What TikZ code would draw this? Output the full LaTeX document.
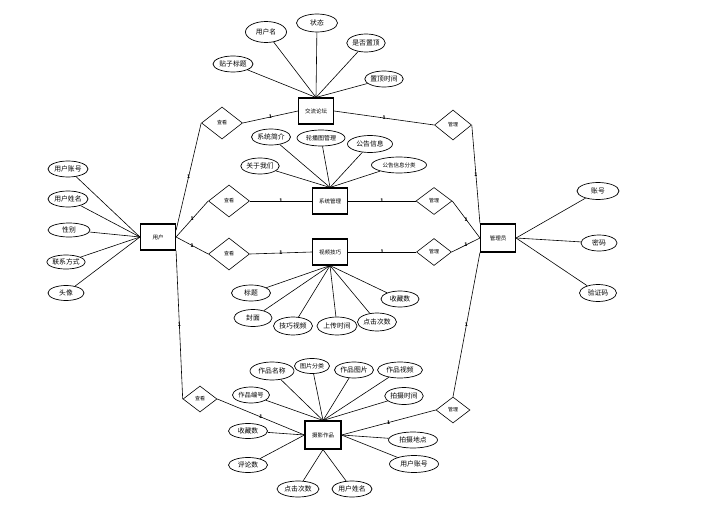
\documentclass[tikz,border=0pt]{standalone}
\usepackage{fontspec}
\newfontfamily\cjk{Noto Sans CJK SC}
\usetikzlibrary{shapes.geometric}
\tikzset{ ent/.style = { rectangle
                       , draw
                       , line width     = 1.1pt
                       , inner sep      = 0pt
                       , minimum width  = 35pt
                       , minimum height = 26pt
                       , font = \cjk\fontsize{5.5}{6}\selectfont
                       },
          rel/.style 2 args = { diamond
                       , draw
                       , line width     = 0.6pt
                       , inner sep      = 0pt
                       , minimum width  = #1pt
                       , minimum height = #2pt
                       , font = \cjk\fontsize{5}{6}\selectfont
                       },
          att/.style 2 args = { ellipse
                       , draw
                       , line width     = 0.7pt
                       , inner sep      = 0pt
                       , minimum width  = #1pt
                       , minimum height = #2pt
                       , font = \cjk\fontsize{6.8}{7}\selectfont
                       },
          mk/.style  = { inner sep = 0pt
                       , font = \cjk\bfseries\fontsize{5}{5}\selectfont
                       }
        }
\begin{document}
\begin{tikzpicture}[x=1pt, y=-1pt, line width=0.6pt]
\useasboundingbox (0,0) rectangle (705,511);
% entities
\node[ent] (jl) at (316,111) {交流论坛};
\node[ent] (xt) at (330,201) {系统管理};
\node[ent] (sp) at (330,252) {视频技巧};
\node[ent, minimum width=36pt, minimum height=28pt] (zp) at (323,435) {摄影作品};
\node[ent] (yh) at (158,237) {用户};
\node[ent, minimum height=28pt] (gly) at (498,238) {管理员};
% relations
\node[rel={41}{32}] (ck1) at (222,123) {查看};
\node[rel={37}{30}] (gl1) at (453,125) {管理};
\node[rel={41}{32}] (ck2) at (229,201) {查看};
\node[rel={36}{27}] (gl2) at (434,201) {管理};
\node[rel={41}{32}] (ck3) at (229,254) {查看};
\node[rel={35}{27}] (gl3) at (434,252) {管理};
\node[rel={34}{26}] (ck4) at (200,399) {查看};
\node[rel={34}{26}] (gl4) at (453,410) {管理};
% attributes of 用户
\node[att={40}{16}] (u1) at (68,169) {用户账号};
\node[att={40}{16}] (u2) at (68,199) {用户姓名};
\node[att={42}{14}] (u3) at (69,230) {性别};
\node[att={38}{14}] (u4) at (66,262) {联系方式};
\node[att={36}{15}] (u5) at (66,293) {头像};
% attributes of 管理员
\node[att={42}{17}] (g1) at (598,191) {账号};
\node[att={36}{16}] (g2) at (599,243) {密码};
\node[att={37}{17}] (g3) at (598,293) {验证码};
% attributes of 交流论坛
\node[att={40}{16}] (j1) at (233,64) {贴子标题};
\node[att={41}{21}] (j2) at (266,32) {用户名};
\node[att={41}{18}] (j3) at (317,23) {状态};
\node[att={38}{18}] (j4) at (366,43) {是否置顶};
\node[att={38}{16}] (j5) at (384,79) {置顶时间};
% attributes of 系统管理
\node[att={39}{16}] (x1) at (271,137) {系统简介};
\node[att={48}{16}, font=\cjk\fontsize{6}{6}\selectfont] (x2) at (321,138) {轮播图管理};
\node[att={45}{17}] (x3) at (370,144) {公告信息};
\node[att={38}{16}] (x4) at (260,166) {关于我们};
\node[att={55}{16}, font=\cjk\fontsize{5.5}{6}\selectfont] (x5) at (399,165) {公告信息分类};
% attributes of 视频技巧
\node[att={39}{16}] (s1) at (251,293) {标题};
\node[att={38}{17}] (s2) at (253,318) {封面};
\node[att={39}{18}] (s3) at (293,326) {技巧视频};
\node[att={40}{18}] (s4) at (337,326) {上传时间};
\node[att={39}{18}] (s5) at (377,322) {点击次数};
\node[att={38}{16}] (s6) at (400,299) {收藏数};
% attributes of 摄影作品
\node[att={44}{18}] (z1) at (272,371) {作品名称};
\node[att={35}{15}, font=\cjk\fontsize{6}{6}\selectfont] (z2) at (312,366) {图片分类};
\node[att={39}{16}] (z3) at (354,370) {作品图片};
\node[att={45}{16}] (z4) at (400,370) {作品视频};
\node[att={37}{16}, font=\cjk\fontsize{6.3}{6}\selectfont] (z5) at (251,395) {作品编号};
\node[att={38}{17}] (z6) at (404,396) {拍摄时间};
\node[att={39}{15}] (z7) at (248,431) {收藏数};
\node[att={49}{16}] (z8) at (413,440) {拍摄地点};
\node[att={39}{15}] (z9) at (248,465) {评论数};
\node[att={49}{17}] (z10) at (414,464) {用户账号};
\node[att={42}{16}] (z11) at (298,489) {点击次数};
\node[att={40}{16}] (z12) at (352,489) {用户姓名};
% attribute lines
\draw (yh.west) -- (u1);
\draw (yh.west) -- (u2);
\draw (yh.west) -- (u3);
\draw (yh.west) -- (u4);
\draw (yh.west) -- (u5);
\draw (gly.east) -- (g1);
\draw (gly.east) -- (g2);
\draw (gly.east) -- (g3);
\draw (jl.north) -- (j1);
\draw (jl.north) -- (j2);
\draw (jl.north) -- (j3);
\draw (jl.north) -- (j4);
\draw (jl.north) -- (j5);
\draw (xt.north) -- (x1);
\draw (xt.north) -- (x2);
\draw (xt.north) -- (x3);
\draw (xt.north) -- (x4);
\draw (xt.north) -- (x5);
\draw (sp.south) -- (s1);
\draw (sp.south) -- (s2);
\draw (sp.south) -- (s3);
\draw (sp.south) -- (s4);
\draw (sp.south) -- (s5);
\draw (sp.south) -- (s6);
\draw (zp.north) -- (z1);
\draw (zp.north) -- (z2);
\draw (zp.north) -- (z3);
\draw (zp.north) -- (z4);
\draw (zp.north) -- (z5);
\draw (zp.north) -- (z6);
\draw (zp.west) -- (z7);
\draw (zp.east) -- (z8);
\draw (zp.west) -- (z9);
\draw (zp.east) -- (z10);
\draw (zp.south) -- (z11);
\draw (zp.south) -- (z12);
% relation lines
\draw (yh.20) -- node[mk]{1} (ck1.west);
\draw (yh.east) -- node[mk]{1} (ck2.west);
\draw (yh.east) -- node[mk]{1} (ck3.west);
\draw (yh.south east) -- node[mk]{1} (ck4.west);
\draw (ck1.east) -- node[mk]{1} (jl.west);
\draw (ck2.east) -- node[mk]{1} (xt.west);
\draw (ck3.east) -- node[mk]{1} (sp.west);
\draw (ck4.east) -- node[mk]{1} (zp.west);
\draw (jl.east) -- node[mk]{1} (gl1.west);
\draw (xt.east) -- node[mk]{1} (gl2.west);
\draw (sp.east) -- node[mk]{1} (gl3.west);
\draw (zp.east) -- node[mk]{1} (gl4.west);
\draw (gl1.east) -- node[mk]{1} (gly.north west);
\draw (gl2.east) -- node[mk]{1} (gly.west);
\draw (gl3.east) -- node[mk]{1} (gly.west);
\draw (gl4.north) -- node[mk]{1} (gly.south west);
\end{tikzpicture}
\end{document}
